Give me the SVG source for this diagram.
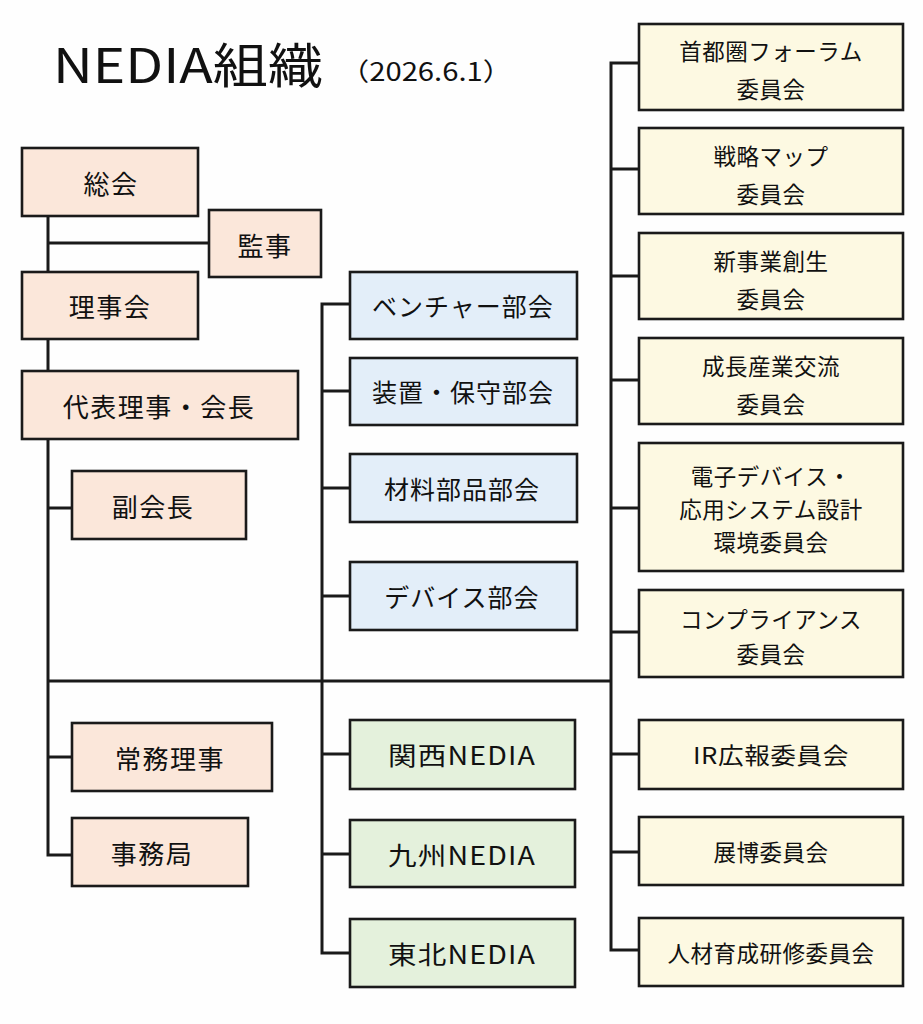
<svg xmlns="http://www.w3.org/2000/svg" width="923" height="1024" viewBox="0 0 923 1024">
<style>
text{font-family:"Noto Sans CJK JP","Noto Sans",sans-serif;fill:#111;text-anchor:middle;dominant-baseline:central}
.box{stroke:#1a1a1a;stroke-width:2.6}
.a{fill:#fbe7da}
.b{fill:#e3eef9}
.g{fill:#e4f1dc}
.y{fill:#fdf9e2}
.l{font-size:26px;letter-spacing:1.5px}
.m{font-size:25px;letter-spacing:1px}
.r{font-size:22.5px;letter-spacing:0.5px}
#connectors{stroke:#1a1a1a;stroke-width:3;fill:none}
</style>
<rect width="923" height="1024" fill="#fefefe"/>
<g id="title">
<text x="53" y="62" style="text-anchor:start;font-size:48px" textLength="270" lengthAdjust="spacingAndGlyphs">NEDIA組織</text>
<text x="340" y="70" style="text-anchor:start;font-size:25px" textLength="172" lengthAdjust="spacingAndGlyphs">（2026.6.1）</text>
</g>
<g id="connectors">
<path d="M48 216V855H72M48 243H209M48 508H72M48 681H611M48 757H72"/>
<path d="M350 304H322V953H350M322 391H350M322 488H350M322 596H350M322 754H350M322 854H350"/>
<path d="M639 63H611V950H639M611 169H639M611 276H639M611 380H639M611 508H639M611 632H639M611 754H639M611 852H639"/>
</g>
<g id="n-sokai"><rect class="box a" x="22" y="148" width="176" height="68"/><text class="l" x="111" y="182">総会</text></g>
<g id="n-kanji"><rect class="box a" x="209" y="210" width="112" height="67"/><text class="l" x="265" y="244">監事</text></g>
<g id="n-rijikai"><rect class="box a" x="22" y="272" width="176" height="67"/><text class="l" x="110" y="305">理事会</text></g>
<g id="n-daihyo"><rect class="box a" x="22" y="371" width="276" height="68"/><text class="l" x="159" y="405">代表理事・会長</text></g>
<g id="n-fuku"><rect class="box a" x="72" y="471" width="174" height="68"/><text class="l" x="153" y="505">副会長</text></g>
<g id="n-jomu"><rect class="box a" x="72" y="723" width="200" height="68"/><text class="l" x="170" y="757">常務理事</text></g>
<g id="n-jimu"><rect class="box a" x="72" y="818" width="176" height="68"/><text class="l" x="152" y="852">事務局</text></g>
<g id="n-venture"><rect class="box b" x="350" y="272" width="227" height="67"/><text class="m" x="463" y="305">ベンチャー部会</text></g>
<g id="n-sochi"><rect class="box b" x="350" y="358" width="227" height="67"/><text class="m" x="463" y="391">装置・保守部会</text></g>
<g id="n-zairyo"><rect class="box b" x="350" y="454" width="227" height="68"/><text class="m" x="462" y="488">材料部品部会</text></g>
<g id="n-device"><rect class="box b" x="350" y="562" width="227" height="68"/><text class="m" x="462" y="596">デバイス部会</text></g>
<g id="n-kansai"><rect class="box g" x="350" y="720" width="225" height="69"/><text class="m" x="462" y="754" textLength="148" lengthAdjust="spacingAndGlyphs">関西NEDIA</text></g>
<g id="n-kyushu"><rect class="box g" x="350" y="820" width="225" height="67"/><text class="m" x="462" y="854" textLength="148" lengthAdjust="spacingAndGlyphs">九州NEDIA</text></g>
<g id="n-tohoku"><rect class="box g" x="350" y="919" width="225" height="68"/><text class="m" x="462" y="953" textLength="148" lengthAdjust="spacingAndGlyphs">東北NEDIA</text></g>
<g id="n-shutoken"><rect class="box y" x="639" y="24" width="264" height="86"/><text class="r" x="771" y="50">首都圏フォーラム</text><text class="r" x="771" y="88">委員会</text></g>
<g id="n-senryaku"><rect class="box y" x="639" y="128" width="264" height="86"/><text class="r" x="771" y="155">戦略マップ</text><text class="r" x="771" y="193">委員会</text></g>
<g id="n-shinjigyo"><rect class="box y" x="639" y="233" width="264" height="86"/><text class="r" x="771" y="260">新事業創生</text><text class="r" x="771" y="298">委員会</text></g>
<g id="n-seicho"><rect class="box y" x="639" y="338" width="264" height="86"/><text class="r" x="771" y="365">成長産業交流</text><text class="r" x="771" y="403">委員会</text></g>
<g id="n-denshi"><rect class="box y" x="639" y="443" width="264" height="128"/><text class="r" x="771" y="475">電子デバイス・</text><text class="r" x="771" y="508">応用システム設計</text><text class="r" x="771" y="541">環境委員会</text></g>
<g id="n-compliance"><rect class="box y" x="639" y="590" width="264" height="87"/><text class="r" x="771" y="618">コンプライアンス</text><text class="r" x="771" y="653">委員会</text></g>
<g id="n-ir"><rect class="box y" x="639" y="720" width="264" height="69"/><text class="r" x="771" y="754" textLength="156" lengthAdjust="spacingAndGlyphs">IR広報委員会</text></g>
<g id="n-tenpaku"><rect class="box y" x="639" y="817" width="264" height="68"/><text class="r" x="771" y="851">展博委員会</text></g>
<g id="n-jinzai"><rect class="box y" x="639" y="918" width="264" height="68"/><text class="r" x="771" y="952">人材育成研修委員会</text></g>
</svg>
